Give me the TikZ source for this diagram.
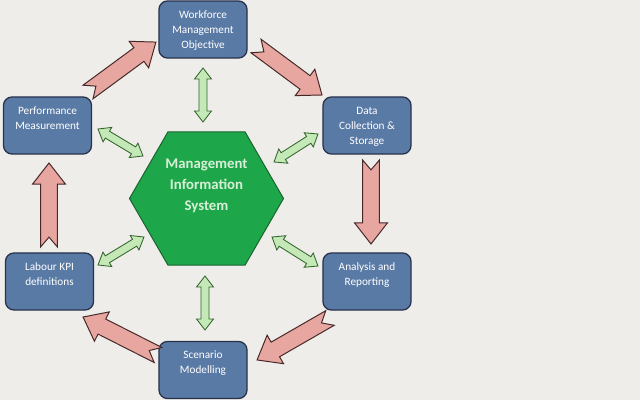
\documentclass[tikz,border=0pt]{standalone}
\usepackage{fontspec}
\setmainfont{Carlito}
\definecolor{pagegray}{RGB}{238,237,234}
\definecolor{boxblue}{RGB}{90,122,166}
\definecolor{boxedge}{RGB}{40,50,75}
\definecolor{misgreen}{RGB}{30,166,74}
\definecolor{misedge}{RGB}{25,100,45}
\definecolor{mistext}{RGB}{215,240,215}
\definecolor{flowpink}{RGB}{232,166,160}
\definecolor{flowedge}{RGB}{70,40,40}
\definecolor{linkgreen}{RGB}{197,232,183}
\definecolor{linkedge}{RGB}{50,100,45}
\usetikzlibrary{shapes.geometric, calc}

% direction and length from #1 to #2
\newcommand{\arrowdir}[2]{%
  \path let \p1=(#1), \p2=(#2) in \pgfextra{%
    \pgfmathsetmacro{\tmpang}{atan2(\y2-\y1,\x2-\x1)}%
    \pgfmathsetmacro{\tmplen}{veclen(\x2-\x1,\y2-\y1)}%
    \xdef\arrang{\tmpang}\xdef\arrlen{\tmplen}};%
}
% notched block arrow
\newcommand{\pinkarrow}[2]{%
  \arrowdir{#1}{#2}%
  \draw[flow, shift={(#1)}, rotate=\arrang]
    (0pt,6pt) -- ({\arrlen pt-15pt},6pt) -- ({\arrlen pt-15pt},11.7pt)
    -- (\arrlen pt,0pt) -- ({\arrlen pt-15pt},-11.7pt) -- ({\arrlen pt-15pt},-6pt)
    -- (0pt,-6pt) -- (7pt,0pt) -- cycle;%
}
% two-headed link arrow
\newcommand{\greenarrow}[2]{%
  \arrowdir{#1}{#2}%
  \draw[link, shift={(#1)}, rotate=\arrang]
    (0pt,0pt) -- (7.8pt,6pt) -- (7.8pt,2.85pt) -- ({\arrlen pt-7.8pt},2.85pt)
    -- ({\arrlen pt-7.8pt},6pt) -- (\arrlen pt,0pt) -- ({\arrlen pt-7.8pt},-6pt)
    -- ({\arrlen pt-7.8pt},-2.85pt) -- (7.8pt,-2.85pt) -- (7.8pt,-6pt) -- cycle;%
}
\newcommand{\boxtext}[1]{\parbox[t][31.3pt][t]{2.2cm}{\centering\strut #1}}

\begin{document}
\begin{tikzpicture}[x=0.025cm, y=-0.025cm,
    stage/.style={draw=boxedge, fill=boxblue, line width=0.9pt, rounded corners=6pt,
      minimum width=2.2cm, minimum height=1.425cm, inner xsep=0pt, inner ysep=4.6pt,
      text=white, font=\fontsize{8}{10.7}\selectfont},
    hexa/.style={regular polygon, regular polygon sides=6, minimum size=3.85cm,
      inner sep=0pt, fill=misgreen, draw=misedge, line width=0.7pt, text=mistext,
      font=\fontsize{10.5}{15}\selectfont\bfseries},
    flow/.style={fill=flowpink, draw=flowedge, line width=0.7pt, line join=miter},
    link/.style={fill=linkgreen, draw=linkedge, line width=0.6pt, line join=miter}]
  \fill[pagegray] (0,0) rectangle (640,400);
  \useasboundingbox (0,0) rectangle (640,400);

  % === stages ===
  \node[stage] (wfm) at (203,29.5) {\boxtext{Workforce\\Management\\Objective}};
  \node[stage] (dcs) at (367,125.5) {\boxtext{Data\\Collection \&\\Storage}};
  \node[stage] (anr) at (367,281.5) {\boxtext{Analysis and\\Reporting}};
  \node[stage] (scm) at (203,370) {\boxtext{Scenario\\Modelling}};
  \node[stage] (lkd) at (49.5,281.5) {\boxtext{Labour KPI\\definitions}};
  \node[stage] (pfm) at (47.5,125.5) {\boxtext{Performance\\Measurement}};

  % === centre ===
  \node[hexa] (mis) at (206.5,198.5)
    {\raisebox{6.5pt}[0pt][0pt]{\makebox[0pt]{\parbox[c]{3cm}{\centering Management\\Information\\System}}}};

  % === cycle arrows ===
  \coordinate (p1a) at (88,92);   \coordinate (p1b) at (156,42);
  \coordinate (p2a) at (256,46);  \coordinate (p2b) at (322,95);
  \coordinate (p3a) at (371,160); \coordinate (p3b) at (371,244);
  \coordinate (p4a) at (330,318); \coordinate (p4b) at (257,360);
  \coordinate (p5a) at (158,355); \coordinate (p5b) at (83,317);
  \coordinate (p6a) at (49,247);  \coordinate (p6b) at (49,163);
  \pinkarrow{p1a}{p1b}
  \pinkarrow{p2a}{p2b}
  \pinkarrow{p3a}{p3b}
  \pinkarrow{p4a}{p4b}
  \pinkarrow{p5a}{p5b}
  \pinkarrow{p6a}{p6b}

  % === links to centre ===
  \coordinate (g1a) at (203,68);  \coordinate (g1b) at (203,122);
  \coordinate (g2a) at (318,134); \coordinate (g2b) at (274,162);
  \coordinate (g3a) at (98,129);  \coordinate (g3b) at (143,156);
  \coordinate (g4a) at (98,265);  \coordinate (g4b) at (144,237);
  \coordinate (g5a) at (318,266); \coordinate (g5b) at (272,237);
  \coordinate (g6a) at (205,276); \coordinate (g6b) at (205,330);
  \greenarrow{g1a}{g1b}
  \greenarrow{g2a}{g2b}
  \greenarrow{g3a}{g3b}
  \greenarrow{g4a}{g4b}
  \greenarrow{g5a}{g5b}
  \greenarrow{g6a}{g6b}
\end{tikzpicture}
\end{document}
